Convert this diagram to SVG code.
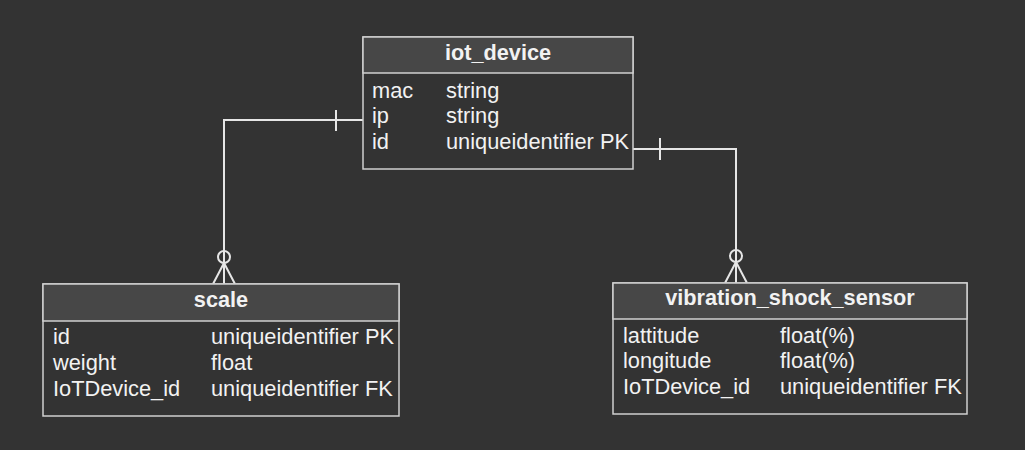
<svg xmlns="http://www.w3.org/2000/svg" width="1025" height="450" viewBox="0 0 1025 450">
<style>
.box{fill:#333333;stroke:#d0d0d0;stroke-width:1.5}
.hdr{fill:#474747;stroke:#d0d0d0;stroke-width:1.5}
.t{font-family:"Liberation Sans",Arial,sans-serif;font-size:21.8px;fill:#f2f2f2}
.h{font-family:"Liberation Sans",Arial,sans-serif;font-size:21.7px;font-weight:bold;fill:#f2f2f2;text-anchor:middle}
.c{fill:none;stroke:#e6e6e6;stroke-width:2}
</style>
<rect width="1025" height="450" fill="#333333"/>
<g id="connectors">
<path class="c" d="M363 120 H224 V284"/>
<path class="c" d="M336 110 V131"/>
<circle class="c" cx="224" cy="257" r="6" fill="#333333"/>
<path class="c" d="M213 284 L224 263 L235 284"/>
<path class="c" d="M633 149 H736 V283"/>
<path class="c" d="M660 138 V160"/>
<circle class="c" cx="736" cy="256" r="6" fill="#333333"/>
<path class="c" d="M725 283 L736 262 L747 283"/>
</g>
<g id="iot_device">
<rect class="box" x="363" y="37" width="270" height="132"/>
<rect class="hdr" x="363" y="37" width="270" height="36"/>
<text class="h" x="498" y="60">iot_device</text>
<text class="t" x="372" y="98">mac</text><text class="t" x="446" y="98">string</text>
<text class="t" x="372" y="123">ip</text><text class="t" x="446" y="123">string</text>
<text class="t" x="372" y="149">id</text><text class="t" x="446" y="149">uniqueidentifier PK</text>
</g>
<g id="scale">
<rect class="box" x="43" y="284" width="356" height="132"/>
<rect class="hdr" x="43" y="284" width="356" height="37"/>
<text class="h" x="221" y="307">scale</text>
<text class="t" x="53" y="344">id</text><text class="t" x="211" y="344">uniqueidentifier PK</text>
<text class="t" x="53" y="370">weight</text><text class="t" x="211" y="370">float</text>
<text class="t" x="53" y="396">IoTDevice_id</text><text class="t" x="211" y="396">uniqueidentifier FK</text>
</g>
<g id="vibration_shock_sensor">
<rect class="box" x="613" y="283" width="354" height="131"/>
<rect class="hdr" x="613" y="283" width="354" height="36"/>
<text class="h" x="790" y="305">vibration_shock_sensor</text>
<text class="t" x="623" y="343">lattitude</text><text class="t" x="780" y="343">float(%)</text>
<text class="t" x="623" y="368">longitude</text><text class="t" x="780" y="368">float(%)</text>
<text class="t" x="623" y="394">IoTDevice_id</text><text class="t" x="780" y="394">uniqueidentifier FK</text>
</g>
</svg>
